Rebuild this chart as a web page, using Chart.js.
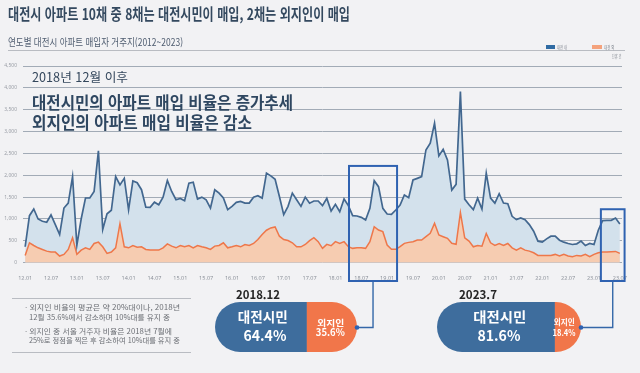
<!DOCTYPE html>
<html lang="ko">
<head>
<meta charset="utf-8">
<script src="https://cdn.jsdelivr.net/npm/chart.js@4"></script>
<style>
  html,body{margin:0;padding:0;background:#f2f2f4;width:640px;height:373px;overflow:hidden;position:relative;}
  .t{position:absolute;white-space:nowrap;line-height:1;font-family:'Noto Sans CJK KR','Noto Sans',sans-serif;z-index:3;}
  canvas{position:absolute;}
  #main{left:0;top:0;z-index:2;}
  .pill{z-index:1;}
  .hr{position:absolute;height:1px;background:#b9bcc2;z-index:1;}
  .sw{position:absolute;z-index:3;}
</style>
</head>
<body>
<canvas id="main" width="640" height="373"></canvas>
<canvas id="pill1" class="pill" width="142" height="50" style="left:215px;top:302px;"></canvas>
<canvas id="pill2" class="pill" width="144" height="50" style="left:437px;top:302px;"></canvas>
<div class="hr" style="left:8px;top:50px;width:617px;"></div>
<div class="hr" style="left:12px;top:298px;width:179px;"></div>
<div class="hr" style="left:12px;top:352px;width:179px;"></div>
<div class="sw" style="left:546px;top:45px;width:9px;height:4px;background:#2f6ba3;"></div>
<div class="sw" style="left:592px;top:45px;width:10px;height:4px;background:#f4a27c;"></div>
<script>
// ---------------- DATA ----------------
const months = [
 '12.01','12.02','12.03','12.04','12.05','12.06','12.07','12.08','12.09','12.10','12.11','12.12',
 '13.01','13.02','13.03','13.04','13.05','13.06','13.07','13.08','13.09','13.10','13.11','13.12',
 '14.01','14.02','14.03','14.04','14.05','14.06','14.07','14.08','14.09','14.10','14.11','14.12',
 '15.01','15.02','15.03','15.04','15.05','15.06','15.07','15.08','15.09','15.10','15.11','15.12',
 '16.01','16.02','16.03','16.04','16.05','16.06','16.07','16.08','16.09','16.10','16.11','16.12',
 '17.01','17.02','17.03','17.04','17.05','17.06','17.07','17.08','17.09','17.10','17.11','17.12',
 '18.01','18.02','18.03','18.04','18.05','18.06','18.07','18.08','18.09','18.10','18.11','18.12',
 '19.01','19.02','19.03','19.04','19.05','19.06','19.07','19.08','19.09','19.10','19.11','19.12',
 '20.01','20.02','20.03','20.04','20.05','20.06','20.07','20.08','20.09','20.10','20.11','20.12',
 '21.01','21.02','21.03','21.04','21.05','21.06','21.07','21.08','21.09','21.10','21.11','21.12',
 '22.01','22.02','22.03','22.04','22.05','22.06','22.07','22.08','22.09','22.10','22.11','22.12',
 '23.01','23.02','23.03','23.04','23.05','23.06','23.07'
];
const xTickLabels = ['12.01','12.07','13.01','13.07','14.01','14.07','15.01','15.07','16.01','16.07','17.01','17.07',
 '18.01','18.07','19.01','19.07','20.01','20.07','21.01','21.07','22.01','22.07','23.01','23.07'];
const yTickLabels = ['0','500','1,000','1,500','2,000','2,500','3,000','3,500','4,000','4,500'];

// 대전 내 (Daejeon residents)
const inside = [
 365,1076,1228,1000,948,925,1092,872,644,1250,1364,1970,
 400,1000,1480,1480,1630,2560,760,1120,1200,1970,1780,1930,
 1210,1870,1830,1670,1270,1265,1385,1325,1500,1880,1630,1440,
 1470,1417,1820,1840,1455,1500,1440,1250,1668,1592,1480,1213,
 1289,1380,1402,1364,1364,1500,1531,1478,2047,1986,1910,1516,
 1100,1289,1592,1440,1289,1500,1360,1411,1411,1305,1472,1183,
 1335,1167,1457,1305,1076,1068,1038,977,1244,1877,1740,1244,
 1114,1106,1205,1320,1549,1488,1892,1930,1969,2579,2732,3189,
 2442,2594,2350,1663,1793,3914,1455,1326,1213,1478,1228,2047,
 1478,1364,1577,1364,1349,1061,985,1023,985,872,720,493,
 470,546,606,606,515,470,440,417,432,493,394,440,
 417,743,963,970,970,1023,887
];
// 대전 외 (outside residents)
const outside = [
 167,455,394,341,303,265,243,243,152,190,303,569,
 190,288,341,303,440,470,364,212,243,341,894,364,
 341,394,356,364,303,288,288,288,341,430,379,341,
 394,364,394,341,394,364,341,303,379,394,455,341,
 364,394,364,417,394,440,531,644,743,796,819,606,
 531,508,455,364,364,417,505,572,481,328,420,389,
 481,443,481,366,328,343,343,328,481,824,748,710,
 404,305,305,366,443,465,481,519,519,595,671,900,
 633,595,557,443,420,1150,569,493,364,394,379,667,
 455,394,440,394,440,341,288,341,288,265,227,167,
 167,167,167,190,152,190,152,136,167,152,190,136,
 190,227,243,243,250,258,212
];

const pillDates = ['2018.12','2023.7'];
const residentShare = [64.4, 81.6];
const outsiderShare = [35.6, 18.4];

// ---------------- TEXT ----------------
function txt(s, o){
  const e = document.createElement('div');
  e.className = 't';
  e.textContent = s;
  e.style.fontSize = o.size + 'px';
  e.style.fontWeight = o.weight || 400;
  e.style.color = o.color || '#333';
  document.body.appendChild(e);
  const w = e.getBoundingClientRect().width;
  const k = o.w ? o.w / w : 1;
  if (o.align === 'center') {
    e.style.left = (o.x - w/2) + 'px';
    e.style.transformOrigin = 'center center';
  } else {
    e.style.left = o.x + 'px';
    e.style.transformOrigin = 'left center';
  }
  e.style.top = (o.y - o.size*0.56) + 'px';
  e.style.transform = 'scaleX(' + k + ')';
  return e;
}
function buildTexts(){
  txt('대전시 아파트 10채 중 8채는 대전시민이 매입, 2채는 외지인이 매입',{x:8,y:15,size:15.5,weight:700,color:'#34495f',w:342});
  txt('연도별 대전시 아파트 매입자 거주지(2012~2023)',{x:8,y:43,size:10,weight:400,color:'#4f5d70',w:175});
  txt('대전 내',{x:557,y:47,size:5,color:'#7d838c',w:10});
  txt('대전 외',{x:603.5,y:47,size:5,color:'#7d838c',w:10.5});
  txt('단위: 건',{x:611.5,y:56,size:5,color:'#7d838c',w:9.5});
  txt('2018년 12월 이후',{x:32,y:78,size:12.5,weight:400,color:'#34475c',w:96});
  txt('대전시민의 아파트 매입 비율은 증가추세',{x:32,y:102.5,size:17,weight:700,color:'#2f4761',w:261});
  txt('외지인의 아파트 매입 비율은 감소',{x:32,y:122.5,size:17,weight:700,color:'#2f4761',w:220});
  txt('· 외지인 비율의 평균은 약 20%대이나, 2018년',{x:25,y:308,size:7,color:'#6a6d73',w:155});
  txt('12월 35.6%에서 감소하며 10%대를 유지 중',{x:29,y:317.7,size:7,color:'#6a6d73',w:141});
  txt('· 외지인 중 서울 거주자 비율은 2018년 7월에',{x:25,y:331.7,size:7,color:'#6a6d73',w:147});
  txt('25%로 정점을 찍은 후 감소하여 10%대를 유지 중',{x:29,y:341,size:7,color:'#6a6d73',w:151});
  // pill labels
  txt(pillDates[0],{x:236,y:295,size:12,weight:700,color:'#262626',w:44});
  txt(pillDates[1],{x:459,y:295,size:12,weight:700,color:'#262626',w:38});
  txt('대전시민',{x:263,y:318,size:13.5,weight:700,color:'#ffffff',w:50,align:'center'});
  txt(residentShare[0]+'%',{x:265,y:335,size:15,weight:700,color:'#ffffff',w:43,align:'center'});
  txt('외지인',{x:330.5,y:322.3,size:8.5,weight:700,color:'#ffffff',w:27,align:'center'});
  txt(outsiderShare[0]+'%',{x:330.5,y:332.7,size:10,weight:700,color:'#ffffff',w:29,align:'center'});
  txt('대전시민',{x:500,y:318,size:13.5,weight:700,color:'#ffffff',w:53,align:'center'});
  txt(residentShare[1]+'%',{x:499,y:335,size:15,weight:700,color:'#ffffff',w:43,align:'center'});
  txt('외지인',{x:564.5,y:321.7,size:7.5,weight:700,color:'#ffffff',w:21,align:'center'});
  txt(outsiderShare[1]+'%',{x:564.5,y:332.3,size:8.5,weight:700,color:'#ffffff',w:23,align:'center'});
}
buildTexts();

// ---------------- CHARTS ----------------
Chart.defaults.font.family = "'Noto Sans','Noto Sans CJK KR',sans-serif";

// highlight boxes (in index / value units) and their connectors to the pills
const highlights = [
  {from:75.15, to:86.3, top:2214, pillX:357, pillY:327.5},
  {from:133.6, to:139.1, top:1223, pillX:581, pillY:327.5}
];
const annot = {
  id:'annot',
  afterDraw(chart){
    const ctx = chart.ctx, xs = chart.scales.x, ys = chart.scales.y;
    const x0 = xs.getPixelForValue(0), step = xs.getPixelForValue(1) - x0;
    const xAt = v => x0 + v*step;
    ctx.save();
    highlights.forEach(h => {
      const l = xAt(h.from), r = xAt(h.to), t = ys.getPixelForValue(h.top), b = 281;
      ctx.strokeStyle = '#2f62b1';
      ctx.lineWidth = 2;
      ctx.strokeRect(l, t, r-l, b-t);
      const cx = (l+r)/2;
      ctx.lineWidth = 1.4;
      ctx.strokeStyle = '#3467a8';
      ctx.beginPath();
      ctx.moveTo(cx, b+1); ctx.lineTo(cx, h.pillY); ctx.lineTo(h.pillX, h.pillY);
      ctx.stroke();
      ctx.fillStyle = '#2f62b1';
      ctx.beginPath(); ctx.arc(h.pillX, h.pillY, 2.3, 0, Math.PI*2); ctx.fill();
    });
    ctx.restore();
  }
};

new Chart(document.getElementById('main'), {
  type:'line',
  data:{
    labels: months,
    datasets:[
      {label:'대전 외', data: outside, borderColor:'#ee774a', backgroundColor:'#f6ccb1', fill:'origin',
       borderWidth:1.5, pointRadius:0, tension:0},
      {label:'대전 내', data: inside, borderColor:'#42678f', backgroundColor:'#d3e1ec', fill:'origin',
       borderWidth:1.7, pointRadius:0, tension:0}
    ]
  },
  options:{
    responsive:false, animation:false,
    layout:{padding:{top:66,right:18,bottom:93.3,left:0}},
    plugins:{legend:{display:false}, tooltip:{enabled:false}},
    scales:{
      x:{
        offset:true,
        grid:{display:false}, border:{display:false},
        ticks:{autoSkip:false, maxRotation:0, minRotation:0, padding:4, color:'#8b9099', font:{size:5.5},
          callback:(v)=> xTickLabels.includes(months[v]) ? months[v] : null},
        afterFit:s=>{s.height=17;}
      },
      y:{
        min:0, max:4500,
        ticks:{stepSize:500, padding:6, color:'#9a9ea6', font:{size:5},
          callback:(v,i)=> yTickLabels[i]},
        grid:{color:'#a2abb6', lineWidth:1, drawTicks:false},
        border:{display:false},
        afterFit:s=>{s.width=23;}
      }
    }
  },
  plugins:[annot]
});

const pillClip = {
  id:'pillClip',
  beforeDatasetsDraw(chart){
    const a = chart.chartArea, ctx = chart.ctx, r = (a.bottom-a.top)/2;
    ctx.save();
    ctx.beginPath();
    ctx.moveTo(a.left + r, a.top);
    ctx.lineTo(a.right - r, a.top);
    ctx.arc(a.right - r, a.top + r, r, -Math.PI/2, Math.PI/2);
    ctx.lineTo(a.left + r, a.bottom);
    ctx.arc(a.left + r, a.top + r, r, Math.PI/2, Math.PI*1.5);
    ctx.closePath();
    ctx.clip();
  },
  afterDatasetsDraw(chart){ chart.ctx.restore(); }
};
function pill(id, k){
  new Chart(document.getElementById(id), {
    type:'bar',
    data:{labels:[pillDates[k]], datasets:[
      {label:'대전시민', data:[residentShare[k]], backgroundColor:'#3e6d9d', borderWidth:0, barPercentage:1, categoryPercentage:1},
      {label:'외지인', data:[outsiderShare[k]], backgroundColor:'#f1764a', borderWidth:0, barPercentage:1, categoryPercentage:1}
    ]},
    options:{
      indexAxis:'y', responsive:false, animation:false,
      layout:{padding:0},
      plugins:{legend:{display:false}, tooltip:{enabled:false}},
      scales:{x:{stacked:true, min:0, max:100, display:false}, y:{stacked:true, display:false}}
    },
    plugins:[pillClip]
  });
}
pill('pill1', 0);
pill('pill2', 1);
</script>
</body>
</html>
